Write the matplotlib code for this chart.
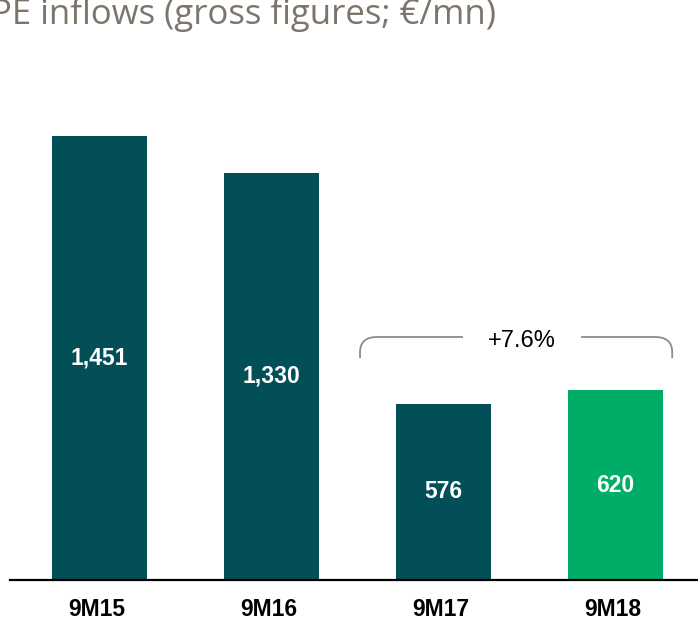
import matplotlib
matplotlib.use('Agg')
import matplotlib.pyplot as plt
from matplotlib.path import Path
from matplotlib.patches import PathPatch

# 数据
categories = ['9M15', '9M16', '9M17', '9M18']
values = [1451, 1330, 576, 620]
value_labels = ['1,451', '1,330', '576', '620']
growth_label = '+7.6%'
title = 'PE inflows (gross figures; €/mn)'

dark = '#024f58'
green = '#00ad67'
colors = [dark, dark, dark, green]

fig = plt.figure(figsize=(6.98, 6.2), dpi=100)
ax = fig.add_axes([10 / 698, 40 / 620, 688 / 698, 580 / 620])

ax.bar(range(len(values)), values, width=0.557, color=colors, zorder=2)
ax.set_xlim(-0.52, 3.48)
ax.set_ylim(0, 1895)

# 柱内数值标签
for i, (v, lab) in enumerate(zip(values, value_labels)):
    ax.text(i, v / 2, lab, ha='center', va='center', color='white',
            fontsize=16.5, fontweight='bold', family='Liberation Sans')

# 类别标签
for i, c in enumerate(categories):
    ax.text(i - 0.015, -98, c, ha='center', va='center', color='black',
            fontsize=16.5, fontweight='bold', family='Liberation Sans',
            clip_on=False)

# 坐标轴样式
for s in ['top', 'right', 'left']:
    ax.spines[s].set_visible(False)
ax.spines['bottom'].set_linewidth(1.6)
ax.set_xticks([])
ax.set_yticks([])

# 增长括号
x0, x1 = 1.515, 3.33
yt, yb = 794, 725
rx, ry = 0.1, 50
verts = [(x0, yb), (x0, yt - ry), (x0, yt), (x0 + rx, yt),
         (x1 - rx, yt), (x1, yt), (x1, yt - ry), (x1, yb)]
codes = [Path.MOVETO, Path.LINETO, Path.CURVE3, Path.CURVE3,
         Path.LINETO, Path.CURVE3, Path.CURVE3, Path.LINETO]
ax.add_patch(PathPatch(Path(verts, codes), fill=False, edgecolor='#8c8c8c',
                       lw=1.3, zorder=3))
ax.text(2.456, 781, growth_label, ha='center', va='center',
        fontsize=17, family='Liberation Sans', color='black', zorder=4,
        bbox=dict(facecolor='white', edgecolor='none', pad=18))

# 标题
fig.text(-0.013, 1 - 24 / 620, title, ha='left', va='baseline',
         fontsize=25, color='#7d756c', family='Open Sans')

fig.savefig('out.png', dpi=100)
